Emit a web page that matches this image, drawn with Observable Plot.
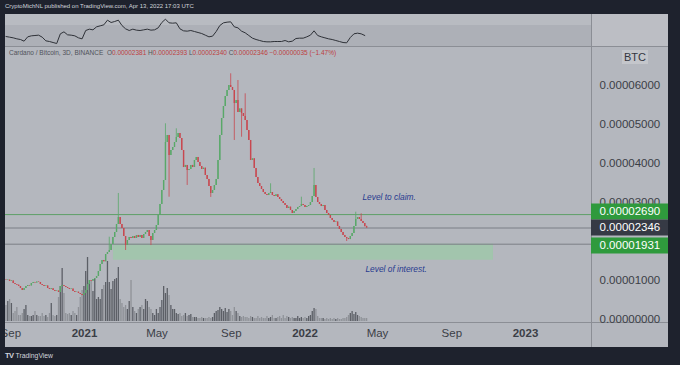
<!DOCTYPE html>
<html><head><meta charset="utf-8">
<script src="https://cdn.jsdelivr.net/npm/d3@7"></script>
<script src="https://cdn.jsdelivr.net/npm/@observablehq/plot@0.6"></script>
<style>
html,body{margin:0;padding:0;background:#1e222d;width:680px;height:365px;overflow:hidden;font-family:"Liberation Sans",Arial,sans-serif;}
#hdr{position:absolute;left:5px;top:3px;font-size:6px;color:#d1d4dc;white-space:nowrap;}
#frame{position:absolute;left:5px;top:14px;width:663px;height:333px;background:#b4b7be;overflow:hidden;}
#frame .layer{position:absolute;left:-5px;top:-14px;}
#frame .layer svg{max-width:none !important;}
.blk{position:absolute;}
#legend{position:absolute;left:4px;top:35px;font-size:6.5px;white-space:nowrap;color:#50535b;}
#legend .r{color:#bd3f3f;}
#foot{position:absolute;left:5px;top:351px;font-size:6.8px;color:#d1d4dc;white-space:nowrap;}
#foot b{font-size:7.5px;letter-spacing:-0.5px;margin-right:2px;}
</style></head>
<body>
<div id="hdr">CryptoMichNL published on TradingView.com, Apr 13, 2022 17:03 UTC</div>
<div id="frame">
  <div class="blk" style="left:0;top:0;width:586px;height:32px;background:#adb0b7"></div>
  <div class="blk" style="left:0;top:0;width:586px;height:11px;background:#b8bbc1"></div>
  <div class="blk" style="left:586px;top:0;width:77px;height:32px;background:#bcbec4"></div>
  <div class="blk" style="left:0;top:32px;width:663px;height:1px;background:#8b8e95"></div>
  <div class="blk" style="left:586px;top:0;width:1px;height:333px;background:#8b8e95"></div>
  <div class="blk" style="left:0;top:308px;width:663px;height:1px;background:#8b8e95"></div>
  <div class="blk" style="left:617px;top:36px;width:26px;height:14px;background:#c4c6cb"></div>
  <div class="blk" style="left:617px;top:36px;width:26px;height:14px;line-height:14px;text-align:center;font-size:11px;color:#34373f">BTC</div>
  <div id="legend">Cardano / Bitcoin, 3D, BINANCE&nbsp; O<span class="r">0.00002381</span> H<span class="r">0.00002393</span> L<span class="r">0.00002340</span> C<span class="r">0.00002346</span> <span class="r">−0.00000035 (−1.47%)</span></div>
  <div class="layer" id="vol"></div>
  <div class="layer" id="main"></div>
  <div class="layer" id="ind"></div>
  <div class="layer" id="axis"></div>
</div>
<div id="foot"><b>TV</b>TradingView</div>
<script>
// ---- data (prices in satoshi, 1e-8 BTC), 3-day candles starting 2020-08-24 ----
const firstDate = "2020-08-24";
const firstOpen = 1010;
const close = [
 1000,1010,974,990,923,897,880,846,795,744,
 795,846,872,860,923,949,935,960,949,897,
 872,846,860,795,769,790,744,718,730,692,
 846,872,846,820,795,769,780,718,692,700,
 667,641,615,667,744,897,1000,980,1026,1051,
 1103,1231,1410,1513,1480,1667,1718,1769,1923,2103,
 2231,2436,2615,2436,2333,2128,1897,2026,2103,2077,
 2128,2077,2154,2103,2154,2077,2179,2231,2282,2128,
 2026,2205,2282,2410,2667,2949,3308,3564,4538,4718,
 4205,4333,4410,4538,4667,4769,4641,4333,3897,3950,
 3820,3846,3950,3897,4077,4154,4026,3923,3846,3880,
 3692,3590,3410,3231,3308,3436,3590,4077,4718,5154,
 5461,5718,5872,6000,5949,5872,5538,5615,5308,5400,
 5282,5205,5102,4846,4590,4077,4120,3872,3641,3487,
 3410,3333,3256,3205,3179,3230,3256,3179,3154,3200,
 3128,3077,3026,2974,2923,2846,2880,2795,2718,2769,
 2820,2872,2897,2950,2923,2872,2900,2923,3000,3154,
 3436,3128,3000,2949,2897,2920,2795,2718,2667,2590,
 2538,2487,2500,2385,2308,2231,2154,2103,2077,2050,
 2128,2205,2385,2564,2615,2564,2513,2462,2381,2346
];
const wicks = [
 {i:57,high:2110},{i:62,high:3231},{i:66,low:1769},{i:80,low:1897},
 {i:88,high:5018},{i:90,low:3136},{i:94,high:4890},{i:100,low:3436},
 {i:113,low:3130},{i:124,high:6300},{i:126,low:4590},{i:128,high:6128},
 {i:130,low:4674},{i:132,high:5787},{i:146,high:3480},{i:163,high:3136},
 {i:170,high:3872},{i:188,low:2000},{i:193,high:2751},{i:196,high:2710},
 {i:199,high:2393,low:2340}
];
const volume = [
 16,20,22,18,8,10,14,6,6,8,
 12,16,6,5,5,6,10,6,5,5,
 8,5,6,4,8,18,6,5,6,24,
 35,53,28,8,7,8,6,10,8,6,
 14,24,31,35,50,64,38,40,30,42,
 22,24,22,32,36,39,60,39,32,40,
 42,43,54,22,18,14,16,12,20,41,
 14,10,8,12,14,16,12,22,20,14,
 12,8,6,12,8,14,21,35,28,33,
 26,16,12,12,8,7,8,5,6,8,
 5,6,7,4,4,4,3,3,4,3,
 3,3,4,3,4,8,10,11,14,12,
 10,13,9,12,10,6,14,10,8,5,
 4,5,4,4,3,5,4,3,3,5,
 3,4,3,3,5,3,4,6,3,3,
 4,5,3,6,3,5,4,3,4,3,
 3,5,3,4,3,4,3,5,6,10,
 13,12,5,3,3,3,2,3,2,3,
 2,3,2,3,2,2,3,3,4,6,
 8,10,7,9,6,5,4,3,3,3
];
// upper indicator pane, one value per two candles
const indicator = [
 30,28,26,23,21,16,29,32,33,34,
 28,17,15,12,9,38,44,35,34,32,
 26,23,48,52,50,59,62,65,79,72,
 75,79,63,53,48,52,49,48,50,52,
 49,50,56,72,82,71,70,71,53,47,
 46,48,45,42,39,34,29,31,45,63,
 71,73,74,59,56,46,41,33,25,21,
 18,15,14,14,15,15,15,18,14,16,
 24,25,25,29,34,47,33,29,26,23,
 21,18,15,12,11,27,38,40,38,33
];
const levelClaim = 2690, lastPrice = 2346, levelInterest = 1931;
const zone = {start:"2021-02-18", end:"2022-11-09", high:1931, low:1520};
const notes = [
 {date:"2022-04-06", price:3136, text:"Level to claim."},
 {date:"2022-04-11", price:1300, text:"Level of interest."}
];
const yTicks = [0,1000,3000,4000,5000,6000];
const monthTicks = ["2020-09-01","2021-05-01","2021-09-01","2022-05-01","2022-09-01"];
const yearTicks = ["2021-01-01","2022-01-01","2023-01-01"];

// ---- build ----
const start = new Date(firstDate);
const candles = close.map((c,i)=>{
  const o = i===0 ? firstOpen : close[i-1];
  const w = wicks.find(d=>d.i===i) || {};
  return {date:d3.utcDay.offset(start,3*i), open:o, close:c,
    high:Math.max(o,c,w.high ?? -Infinity), low:Math.min(o,c,w.low ?? Infinity),
    up:c>=o, volume:volume[i]};
});
const indData = indicator.map((v,k)=>({date:candles[2*k].date, v}));
const fmtP = d => (d/1e8).toFixed(8);
const X = {type:"utc", domain:[new Date("2021-01-01"),new Date("2023-01-01")], range:[84,525]};
const base = {width:680,height:365,marginLeft:5,marginRight:89,marginTop:46,marginBottom:43,
  style:{background:"transparent",fontFamily:"Liberation Sans, Arial, sans-serif",fontSize:"11.5px",color:"#3b3e46",overflow:"visible"}};
const GREEN="#58a868", RED="#c8474f";

const vol = Plot.plot({...base, x:{...X, axis:null}, y:{domain:[0,100], range:[321,221], axis:null},
  color:{type:"identity"},
  marks:[Plot.ruleX(candles,{x:"date", y1:0, y2:"volume", stroke:d=>d.up?"#5c5f66":"#8f9298", strokeWidth:1.3})]});

const main = Plot.plot({...base, x:{...X, axis:null}, y:{domain:[0,6000], range:[319,85], axis:null},
  color:{type:"identity"},
  marks:[
    Plot.rect([zone],{x1:d=>new Date(d.start), x2:d=>new Date(d.end), y1:"low", y2:"high", fill:"#8fd49b", fillOpacity:0.5}),
    Plot.ruleY([levelClaim],{stroke:"#5f9f68", strokeWidth:1}),
    Plot.ruleY([lastPrice],{stroke:"#7b7e86", strokeWidth:1}),
    Plot.ruleY([levelInterest],{stroke:"#7b7e86", strokeWidth:1}),
    Plot.ruleX(candles,{x:"date", y1:"low", y2:"high", stroke:d=>d.up?GREEN:RED, strokeWidth:0.8}),
    Plot.ruleX(candles,{x:"date", y1:"open", y2:"close", stroke:d=>d.up?GREEN:RED, strokeWidth:1.4}),
    Plot.text(notes,{x:d=>new Date(d.date), y:"price", text:"text", textAnchor:"start", fontStyle:"italic", fill:"#283a8f", fontSize:8.4}),
    Plot.axisX(monthTicks.map(d=>new Date(d)),{tickSize:0, tickPadding:6, tickFormat:d3.utcFormat("%b")}),
    Plot.axisX(yearTicks.map(d=>new Date(d)),{tickSize:0, tickPadding:6, tickFormat:d3.utcFormat("%Y"), fontWeight:"bold"})
  ]});

const ind = Plot.plot({...base, x:{...X, axis:null}, y:{domain:[0,96], range:[46,14], axis:null},
  marks:[Plot.line(indData,{x:"date", y:"v", stroke:"#2e3137", strokeWidth:1})]});

const lbl = (v,dy,fill)=>[
  Plot.ruleY([v],{stroke:fill, strokeWidth:16, dy}),
  Plot.text([v],{y:d=>d, text:fmtP, frameAnchor:"left", dx:8, dy, textAnchor:"start", fill:"#ffffff", fontSize:11.5})
];
const axis = Plot.plot({...base, marginLeft:591, marginRight:12, y:{domain:[0,6000], range:[319,85], axis:null},
  marks:[
    Plot.text(yTicks,{y:d=>d, text:fmtP, frameAnchor:"left", dx:8, textAnchor:"start", fill:"#3b3e46", fontSize:11.5}),
    ...lbl(levelClaim,-3,"#2f9a3d"),
    ...lbl(lastPrice,-0.5,"#363a45"),
    ...lbl(levelInterest,1.3,"#2f9a3d")
  ]});

for (const [id,svg] of [["vol",vol],["main",main],["ind",ind],["axis",axis]]) {
  svg.style.maxWidth="none";
  document.getElementById(id).appendChild(svg);
}
</script>
</body></html>
